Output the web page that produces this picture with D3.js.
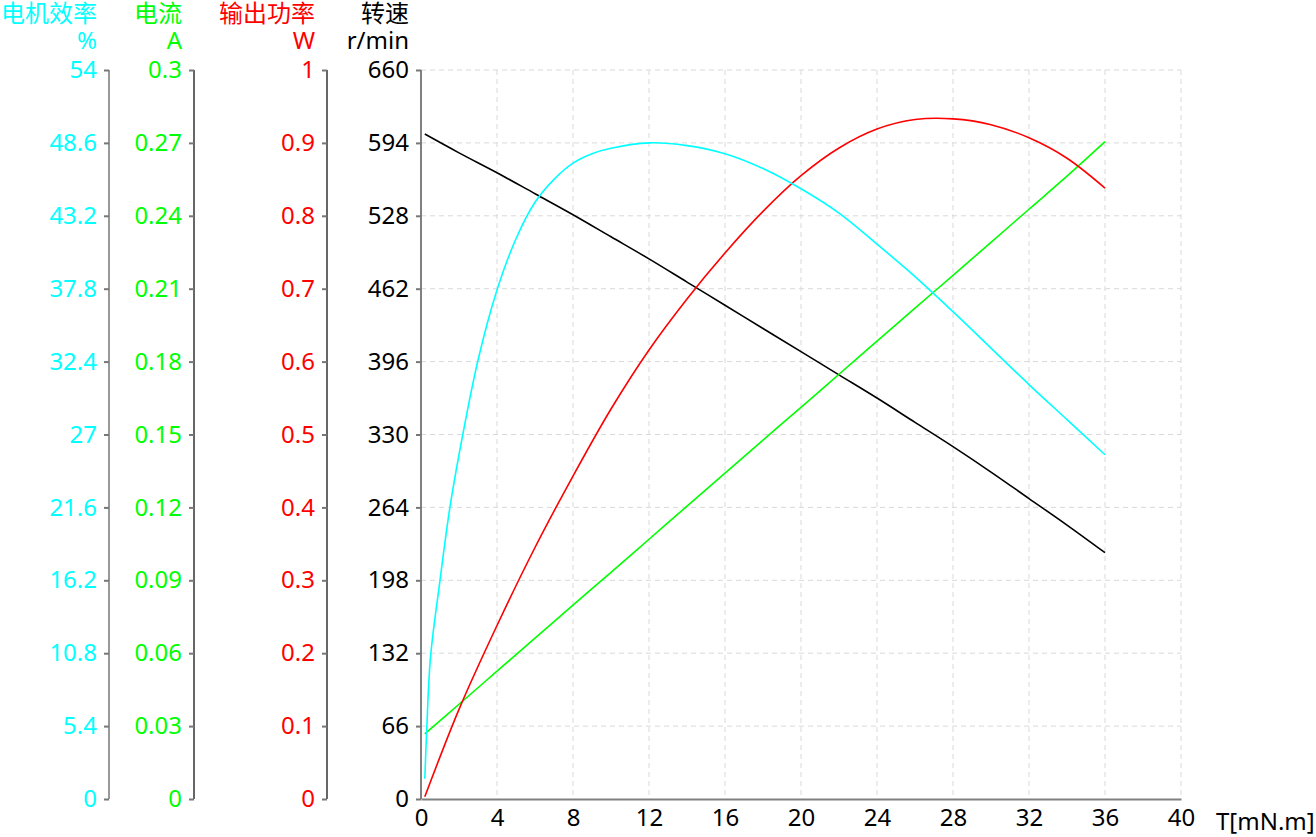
<!DOCTYPE html>
<html>
<head>
<meta charset="utf-8">
<script src="https://cdn.jsdelivr.net/npm/d3@7"></script>
<style>
  body { margin: 0; background: #fff; }
  text { font-family: "Noto Sans", "Noto Sans CJK SC", sans-serif; }
</style>
</head>
<body>
<script>
// torque points (mN.m) for speed / current / power
var torque  = [0.2, 2, 4, 6, 8, 10, 12, 14, 16, 18, 20, 22, 24, 26, 28, 30, 32, 34, 36];
var speed   = [602, 585, 567, 548, 529, 509, 489, 468, 447, 426, 405, 384, 363, 341, 319, 296, 272, 248, 223];
var current = [0.0268, 0.0390, 0.0526, 0.0662, 0.0798, 0.0933, 0.1069, 0.1205, 0.1341, 0.1477, 0.1612, 0.1748, 0.1884, 0.2020, 0.2155, 0.2291, 0.2427, 0.2563, 0.2705];
var power   = [0.003, 0.123, 0.238, 0.345, 0.443, 0.535, 0.616, 0.686, 0.749, 0.806, 0.855, 0.893, 0.919, 0.932, 0.933, 0.925, 0.907, 0.879, 0.838];

// efficiency is read on a denser grid near the start
var effTorque  = [0.2, 0.3, 0.5, 1, 1.5, 2, 3, 4, 5, 6, 7, 8, 9, 10, 12, 14, 16, 18, 20, 22, 24, 26, 28, 30, 32, 34, 36];
var efficiency = [1.5, 5.1, 10.5, 16.2, 21.4, 25.5, 32.5, 37.7, 41.5, 44.2, 45.9, 47.1, 47.8, 48.2, 48.6, 48.4, 47.8, 46.7, 45.2, 43.4, 41.1, 38.7, 36.1, 33.4, 30.7, 28.1, 25.5];

// tick values
var xTicks     = [0, 4, 8, 12, 16, 20, 24, 28, 32, 36, 40];
var speedTicks = [0, 66, 132, 198, 264, 330, 396, 462, 528, 594, 660];
var effTicks   = [0, 5.4, 10.8, 16.2, 21.6, 27, 32.4, 37.8, 43.2, 48.6, 54];
var curTicks   = [0, 0.03, 0.06, 0.09, 0.12, 0.15, 0.18, 0.21, 0.24, 0.27, 0.3];
var powTicks   = [0, 0.1, 0.2, 0.3, 0.4, 0.5, 0.6, 0.7, 0.8, 0.9, 1];

var W = 1316, H = 837;
var plotTop = 70, plotBottom = 799, plotLeft = 421, plotRight = 1181;
var fs = 24;

var svg = d3.select("body").append("svg").attr("width", W).attr("height", H);

var x = d3.scaleLinear().domain([0, 40]).range([plotLeft, plotRight]);
var ySpeed = d3.scaleLinear().domain([0, 660]).range([plotBottom, plotTop]);
var yEff = d3.scaleLinear().domain([0, 54]).range([plotBottom, plotTop]);
var yCur = d3.scaleLinear().domain([0, 0.3]).range([plotBottom, plotTop]);
var yPow = d3.scaleLinear().domain([0, 1]).range([plotBottom, plotTop]);

// grid
svg.append("g").selectAll("line")
    .data(speedTicks.slice(1))
    .enter().append("line")
    .attr("x1", plotLeft).attr("x2", plotRight)
    .attr("y1", function(d) { return ySpeed(d); })
    .attr("y2", function(d) { return ySpeed(d); })
    .attr("stroke", "#d9d9d9").attr("stroke-dasharray", "5,4");

svg.append("g").selectAll("line")
    .data(xTicks.slice(1))
    .enter().append("line")
    .attr("y1", plotTop).attr("y2", plotBottom)
    .attr("x1", function(d) { return x(d); })
    .attr("x2", function(d) { return x(d); })
    .attr("stroke", "#d9d9d9").attr("stroke-dasharray", "5,4");

// left axes
var axes = [
    { scale: yEff,   ticks: effTicks,   pos: 109, color: "#00ffff", lineColor: "#555", title: "电机效率", unit: "%" },
    { scale: yCur,   ticks: curTicks,   pos: 194, color: "#00ff00", lineColor: "#000", title: "电流",     unit: "A" },
    { scale: yPow,   ticks: powTicks,   pos: 327, color: "#ff0000", lineColor: "#000", title: "输出功率", unit: "W" },
    { scale: ySpeed, ticks: speedTicks, pos: plotLeft, color: "#000", lineColor: "#808080", title: "转速", unit: "r/min" }
];

axes.forEach(function(a, i) {
    var g = svg.append("g").attr("transform", "translate(" + a.pos + ",0)");
    g.call(d3.axisLeft(a.scale).tickValues(a.ticks).tickSize(5).tickPadding(7)
        .tickFormat(function(d) { return String(d); }));
    g.select(".domain").attr("stroke", a.lineColor)
        .attr("stroke-width", i == 3 ? 2 : 1.2)
        .attr("d", "M0," + plotTop + "V" + plotBottom);
    g.selectAll(".tick line").attr("stroke", "#777").attr("stroke-width", 2);
    g.selectAll(".tick text").attr("fill", a.color)
        .style("font-size", fs + "px")
        .style("font-family", '"Noto Sans", sans-serif');

    svg.append("text").attr("x", a.pos - 12).attr("y", 22)
        .attr("text-anchor", "end").attr("fill", a.color)
        .style("font-size", "24px")
        .style("font-family", '"Noto Sans CJK SC", sans-serif')
        .text(a.title);
    svg.append("text").attr("x", a.pos - 12).attr("y", 49)
        .attr("text-anchor", "end").attr("fill", a.color)
        .style("font-size", fs + "px")
        .text(a.unit);
});

// x axis
var gx = svg.append("g").attr("transform", "translate(0," + plotBottom + ")");
gx.call(d3.axisBottom(x).tickValues(xTicks).tickSize(0).tickPadding(10));
gx.select(".domain").attr("stroke", "#808080").attr("stroke-width", 2);
gx.selectAll(".tick text").attr("fill", "#000").style("font-size", fs + "px");

svg.append("text").attr("x", 1216).attr("y", 830)
    .attr("fill", "#000").style("font-size", fs + "px")
    .text("T[mN.m]");

// curves
function drawLine(xs, ys, yScale, color) {
    var pts = xs.map(function(t, i) { return [t, ys[i]]; });
    var line = d3.line()
        .x(function(d) { return x(d[0]); })
        .y(function(d) { return yScale(d[1]); })
        .curve(d3.curveCatmullRom.alpha(0.5));
    svg.append("path").datum(pts)
        .attr("d", line)
        .attr("fill", "none")
        .attr("stroke", color)
        .attr("stroke-width", 1.6);
}

drawLine(torque, speed, ySpeed, "#000000");
drawLine(torque, current, yCur, "#00ff00");
drawLine(torque, power, yPow, "#ff0000");
drawLine(effTorque, efficiency, yEff, "#00ffff");
</script>
</body>
</html>
